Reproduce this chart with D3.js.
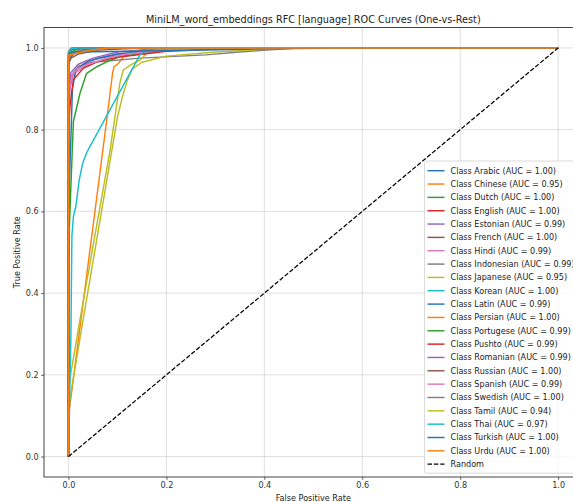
<!DOCTYPE html>
<html>
<head>
<meta charset="utf-8">
<script src="https://cdn.jsdelivr.net/npm/d3@7/dist/d3.min.js"></script>
<style>
  html, body { margin: 0; padding: 0; background: #fff; }
  svg { display: block; font-family: "DejaVu Sans", sans-serif; }
</style>
</head>
<body>
<svg id="chart" width="573" height="502"></svg>
<script>
const chartTitle = "MiniLM_word_embeddings RFC [language] ROC Curves (One-vs-Rest)";
const xLabel = "False Positive Rate";
const yLabel = "True Positive Rate";
const tickValues = [0.0, 0.2, 0.4, 0.6, 0.8, 1.0];
const tickLabels = ["0.0", "0.2", "0.4", "0.6", "0.8", "1.0"];

const classes = ["Arabic","Chinese","Dutch","English","Estonian","French","Hindi","Indonesian",
  "Japanese","Korean","Latin","Persian","Portugese","Pushto","Romanian","Russian","Spanish",
  "Swedish","Tamil","Thai","Turkish","Urdu"];
const aucs = [1.00,0.95,1.00,1.00,0.99,1.00,0.99,0.99,0.95,1.00,0.99,1.00,0.99,0.99,0.99,1.00,0.99,1.00,0.94,0.97,1.00,1.00];

// ROC points [fpr, tpr] per class
const rocArabic    = [[0,0],[0,0.985],[0.003,0.993],[0.01,0.997],[0.03,1],[1,1]];
const rocChinese   = [[0,0],[0,0.098],[0.0255,0.335],[0.076,0.804],[0.09,0.938],[0.093,0.954],[0.102,0.962],[0.112,0.978],[0.13,0.99],[0.17,1],[1,1]];
const rocDutch     = [[0,0],[0,0.975],[0.005,0.99],[0.02,0.997],[0.05,1],[1,1]];
const rocEnglish   = [[0,0],[0,0.99],[0.005,0.999],[0.013,1],[1,1]];
const rocEstonian  = [[0,0],[0,0.82],[0.003,0.9],[0.01,0.94],[0.03,0.96],[0.06,0.975],[0.1,0.985],[0.2,0.995],[0.35,1],[1,1]];
const rocFrench    = [[0,0],[0,0.97],[0.01,0.985],[0.03,0.995],[0.08,1],[1,1]];
const rocHindi     = [[0,0],[0,0.88],[0.005,0.92],[0.015,0.94],[0.03,0.952],[0.05,0.962],[0.07,0.972],[0.1,0.983],[0.15,0.994],[0.3,1],[1,1]];
const rocIndonesian= [[0,0],[0,0.9],[0.005,0.93],[0.02,0.955],[0.05,0.965],[0.146,0.975],[0.28,0.983],[0.35,0.99],[0.405,0.995],[0.47,1],[1,1]];
const rocJapanese  = [[0,0],[0,0.17],[0.0235,0.335],[0.085,0.75],[0.098,0.857],[0.105,0.914],[0.112,0.946],[0.126,0.958],[0.146,0.97],[0.16,0.987],[0.18,0.996],[0.25,1],[1,1]];
const rocKorean    = [[0,0],[0,0.99],[0.005,0.998],[0.02,1],[1,1]];
const rocLatin     = [[0,0],[0,0.6],[0.006,0.82],[0.008,0.9],[0.015,0.945],[0.04,0.968],[0.1,0.985],[0.2,0.995],[0.4,1],[1,1]];
const rocPersian   = [[0,0],[0,0.98],[0.01,0.99],[0.05,0.995],[0.1,1],[1,1]];
const rocPortugese = [[0,0],[0,0.5],[0.003,0.6],[0.01,0.82],[0.0235,0.889],[0.037,0.938],[0.058,0.954],[0.078,0.966],[0.105,0.979],[0.2,0.995],[0.3,1],[1,1]];
const rocPushto    = [[0,0],[0,0.8],[0.003,0.857],[0.01,0.922],[0.03,0.95],[0.058,0.966],[0.1,0.977],[0.2,0.992],[0.35,1],[1,1]];
const rocRomanian  = [[0,0],[0,0.9],[0.005,0.94],[0.02,0.96],[0.05,0.975],[0.1,0.99],[0.2,1],[1,1]];
const rocRussian   = [[0,0],[0,0.96],[0.005,0.975],[0.02,0.985],[0.06,0.995],[0.15,1],[1,1]];
const rocSpanish   = [[0,0],[0,0.9],[0.008,0.935],[0.02,0.95],[0.04,0.96],[0.08,0.975],[0.12,0.985],[0.2,0.995],[0.3,1],[1,1]];
const rocSwedish   = [[0,0],[0,0.97],[0.005,0.985],[0.02,0.993],[0.1,1],[1,1]];
const rocTamil     = [[0,0],[0,0.12],[0.025,0.3],[0.1,0.83],[0.11,0.88],[0.12,0.92],[0.13,0.948],[0.15,0.965],[0.2,0.98],[0.3,0.99],[0.45,1],[1,1]];
const rocThai      = [[0,0],[0.005,0.3],[0.007,0.54],[0.01,0.587],[0.015,0.612],[0.022,0.677],[0.029,0.718],[0.037,0.743],[0.042,0.755],[0.146,0.983],[0.166,1],[1,1]];
const rocTurkish   = [[0,0],[0,0.985],[0.01,0.99],[0.2,0.993],[0.4,0.998],[0.6,1],[1,1]];
const rocUrdu      = [[0,0],[0,0.983],[0.01,0.985],[0.04,0.993],[0.08,1],[1,1]];

const rocPoints = [rocArabic,rocChinese,rocDutch,rocEnglish,rocEstonian,rocFrench,rocHindi,rocIndonesian,
  rocJapanese,rocKorean,rocLatin,rocPersian,rocPortugese,rocPushto,rocRomanian,rocRussian,rocSpanish,
  rocSwedish,rocTamil,rocThai,rocTurkish,rocUrdu];
const randomLine = [[0,0],[1,1]];

const palette = ["#1f77b4","#ff7f0e","#2ca02c","#d62728","#9467bd","#8c564b","#e377c2","#7f7f7f","#bcbd22","#17becf"];

const svg = d3.select("#chart");
const L = 44, R = 582.6, T = 27.5, B = 477;
const x = d3.scaleLinear().domain([-0.05, 1.05]).range([L, R]);
const y = d3.scaleLinear().domain([-0.05, 1.05]).range([B, T]);

svg.append("defs").append("clipPath").attr("id","clip")
  .append("rect").attr("x", L).attr("y", T).attr("width", R - L).attr("height", B - T);

// grid
const grid = svg.append("g");
grid.selectAll(".gx").data(tickValues).enter().append("line")
  .attr("x1", d => x(d)).attr("x2", d => x(d)).attr("y1", T).attr("y2", B)
  .attr("stroke", "#b0b0b0").attr("stroke-opacity", 0.5).attr("stroke-width", 0.8);
grid.selectAll(".gy").data(tickValues).enter().append("line")
  .attr("y1", d => y(d)).attr("y2", d => y(d)).attr("x1", L).attr("x2", R)
  .attr("stroke", "#b0b0b0").attr("stroke-opacity", 0.5).attr("stroke-width", 0.8);

// curves
const line = d3.line().x(d => x(d[0])).y(d => y(d[1]));
const curves = svg.append("g").attr("clip-path", "url(#clip)");
rocPoints.forEach((pts, i) => {
  curves.append("path").attr("d", line(pts)).attr("fill", "none")
    .attr("stroke", palette[i % 10]).attr("stroke-width", 1.45)
    .attr("stroke-linejoin", "round");
});
curves.append("path").attr("d", line(randomLine)).attr("fill", "none")
  .attr("stroke", "#000").attr("stroke-width", 1.25).attr("stroke-dasharray", "4.5,1.9");

// axes
const xAxis = d3.axisBottom(x).tickValues(tickValues).tickFormat((d, i) => tickLabels[i]).tickSize(2.8).tickPadding(2.5);
const yAxis = d3.axisLeft(y).tickValues(tickValues).tickFormat((d, i) => tickLabels[i]).tickSize(2.8).tickPadding(2.5);
const gx = svg.append("g").attr("transform", `translate(0,${B})`).call(xAxis);
const gy = svg.append("g").attr("transform", `translate(${L},0)`).call(yAxis);
[gx, gy].forEach(g => {
  g.select(".domain").remove();
  g.selectAll(".tick line").attr("stroke", "#333").attr("stroke-width", 0.8);
  g.selectAll(".tick text").attr("fill", "#333").attr("font-size", "8.1px").attr("font-family", "DejaVu Sans");
});

// spines
svg.append("rect").attr("x", L).attr("y", T).attr("width", R - L).attr("height", B - T)
  .attr("fill", "none").attr("stroke", "#444").attr("stroke-width", 1);

// title and labels
svg.append("text").attr("x", (L + R) / 2).attr("y", 22.5).attr("text-anchor", "middle")
  .attr("font-size", "9.7px").attr("fill", "#222").text(chartTitle);
svg.append("text").attr("x", (L + R) / 2).attr("y", 501).attr("text-anchor", "middle")
  .attr("font-size", "8.1px").attr("fill", "#222").text(xLabel);
svg.append("text").attr("transform", `translate(20,${(T + B) / 2}) rotate(-90)`).attr("text-anchor", "middle")
  .attr("font-size", "8.1px").attr("fill", "#222").text(yLabel);

// legend
const legX = 424.5, legTop = 161, rowH = 13.34, firstRow = 170.7;
const nRows = classes.length + 1;
const leg = svg.append("g");
leg.append("rect").attr("x", legX).attr("y", legTop).attr("width", 200)
  .attr("height", (firstRow - legTop) + (nRows - 1) * rowH + 9)
  .attr("rx", 2.5).attr("fill", "#fff").attr("fill-opacity", 0.8)
  .attr("stroke", "#d0d0d0").attr("stroke-width", 0.8);
classes.forEach((c, i) => {
  const yy = firstRow + i * rowH;
  leg.append("line").attr("x1", legX + 3).attr("x2", legX + 20).attr("y1", yy).attr("y2", yy)
    .attr("stroke", palette[i % 10]).attr("stroke-width", 1.45);
  leg.append("text").attr("x", legX + 26).attr("y", yy).attr("dy", "0.35em")
    .attr("font-size", "8.1px").attr("fill", "#222")
    .text(`Class ${c} (AUC = ${aucs[i].toFixed(2)})`);
});
{
  const yy = firstRow + classes.length * rowH;
  leg.append("line").attr("x1", legX + 3).attr("x2", legX + 20).attr("y1", yy).attr("y2", yy)
    .attr("stroke", "#000").attr("stroke-width", 1.25).attr("stroke-dasharray", "4.5,1.9");
  leg.append("text").attr("x", legX + 26).attr("y", yy).attr("dy", "0.35em")
    .attr("font-size", "8.1px").attr("fill", "#222").text("Random");
}
</script>
</body>
</html>
